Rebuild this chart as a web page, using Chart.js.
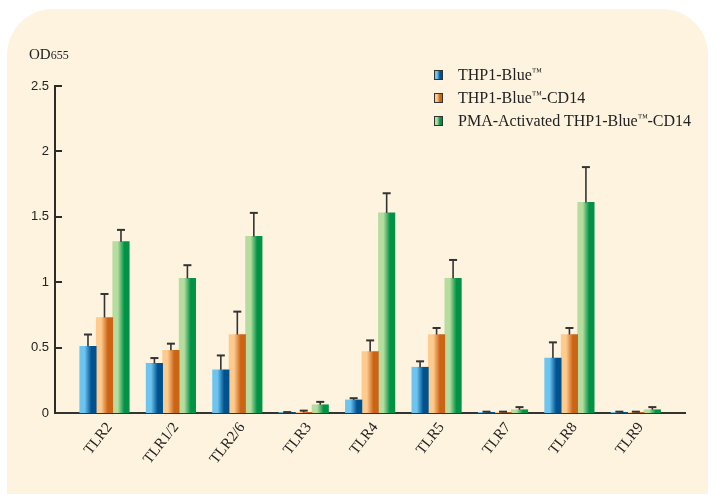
<!DOCTYPE html>
<html>
<head>
<meta charset="utf-8">
<script src="https://cdn.jsdelivr.net/npm/chart.js@4"></script>
<style>
html,body{margin:0;padding:0;background:#fff;}
#wrap{position:relative;width:716px;height:495px;overflow:hidden;}
#panel{position:absolute;left:7px;top:9px;width:701px;height:485px;background:#fef3de;border-radius:46px 46px 0 0;}
#c{position:absolute;left:0;top:0;}
#ytitle{position:absolute;left:29px;top:46px;font:15px "Liberation Serif","Times New Roman",serif;color:#222;}
#ytitle span{font-size:12px;}
#legend{position:absolute;left:434px;top:63px;font:16px "Liberation Serif","Times New Roman",serif;color:#222;}
#legend .row{height:23px;display:flex;align-items:center;white-space:nowrap;}
#legend .sw{width:7px;height:8px;border:1px solid #333;margin-right:15px;}
.tm{font-size:10px;position:relative;top:-5px;}
</style>
</head>
<body>
<div id="wrap">
  <div id="panel"></div>
  <canvas id="c" width="716" height="495"></canvas>
  <div id="ytitle">OD<span>655</span></div>
  <div id="legend"></div>
</div>
<script>
/* ---------- Data ---------- */
const categories = ['TLR2','TLR1/2','TLR2/6','TLR3','TLR4','TLR5','TLR7','TLR8','TLR9'];
const seriesNames = ['THP1-Blue™', 'THP1-Blue™-CD14', 'PMA-Activated THP1-Blue™-CD14'];

const thp1Blue      = [0.51, 0.38, 0.33, 0.004, 0.10, 0.35, 0.005, 0.42, 0.005];
const thp1BlueErr   = [0.09, 0.04, 0.11, 0.003, 0.013, 0.045, 0.005, 0.12, 0.005];
const thp1Cd14      = [0.73, 0.48, 0.60, 0.005, 0.47, 0.60, 0.005, 0.60, 0.005];
const thp1Cd14Err   = [0.18, 0.05, 0.175, 0.013, 0.085, 0.05, 0.005, 0.05, 0.005];
const pmaCd14       = [1.31, 1.03, 1.35, 0.063, 1.53, 1.03, 0.025, 1.61, 0.025];
const pmaCd14Err    = [0.09, 0.10, 0.18, 0.022, 0.15, 0.14, 0.02, 0.27, 0.02];

const yTicks = [0, 0.5, 1, 1.5, 2, 2.5];

/* ---------- Styles ---------- */
const SHADES = [
  ['#6cc4ef', '#00528f'],
  ['#fdcb8e', '#cc6416'],
  ['#b7dc9f', '#009345']
];
const SERIF = '"Liberation Serif", "Times New Roman", serif';
const SANS  = '"Liberation Sans", Arial, sans-serif';

const pts = (vals)=> vals.map((v,i)=>({x:i, y:v}));

/* left-light / right-dark shading of every bar */
const barShade = {
  id:'barShade',
  beforeDatasetsDraw(chart){
    const ctx = chart.ctx;
    chart.data.datasets.forEach((ds, di)=>{
      chart.getDatasetMeta(di).data.forEach(bar=>{
        const x0 = bar.x - bar.width/2, x1 = bar.x + bar.width/2;
        const g = ctx.createLinearGradient(x0, 0, x1, 0);
        g.addColorStop(0, ds.shade[0]);
        g.addColorStop(0.3, ds.shade[0]);
        g.addColorStop(0.7, ds.shade[1]);
        g.addColorStop(1, ds.shade[1]);
        bar.options = Object.assign({}, bar.options, {backgroundColor:g});
      });
    });
  }
};

/* upper error bars */
const errorBars = {
  id:'errorBars',
  afterDatasetsDraw(chart){
    const {ctx, scales:{y}} = chart;
    ctx.save();
    ctx.strokeStyle = '#333';
    chart.data.datasets.forEach((ds, di)=>{
      chart.getDatasetMeta(di).data.forEach((bar, i)=>{
        const top = y.getPixelForValue(ds.data[i].y + ds.err[i]);
        ctx.lineWidth = 1.6;
        ctx.beginPath(); ctx.moveTo(bar.x, bar.y); ctx.lineTo(bar.x, top); ctx.stroke();
        ctx.lineWidth = 2;
        ctx.beginPath(); ctx.moveTo(bar.x - 4, top); ctx.lineTo(bar.x + 4, top); ctx.stroke();
      });
    });
    ctx.restore();
  }
};

/* inward tick marks on the value axis */
const innerTicks = {
  id:'innerTicks',
  afterDraw(chart){
    const {ctx, scales:{x, y}} = chart;
    ctx.save();
    ctx.strokeStyle = '#2b2b2b';
    ctx.lineWidth = 2;
    y.ticks.forEach(t=>{
      if (t.value === 0) return;
      const py = Math.round(y.getPixelForValue(t.value));
      ctx.beginPath(); ctx.moveTo(x.left, py); ctx.lineTo(x.left + 7, py); ctx.stroke();
    });
    ctx.restore();
  }
};

const datasets = [
  { label: seriesNames[0], data: pts(thp1Blue), err: thp1BlueErr, shade: SHADES[0] },
  { label: seriesNames[1], data: pts(thp1Cd14), err: thp1Cd14Err, shade: SHADES[1] },
  { label: seriesNames[2], data: pts(pmaCd14),  err: pmaCd14Err,  shade: SHADES[2] }
].map(d=>Object.assign(d, {
  backgroundColor: d.shade[1], borderWidth: 0,
  barThickness: 16.5
}));

new Chart(document.getElementById('c'), {
  type: 'bar',
  data: { datasets },
  options: {
    responsive: false,
    animation: false,
    layout: { padding: { left: 0, top: 86, right: 31, bottom: 0 } },
    plugins: { legend: { display:false }, tooltip: { enabled:false } },
    scales: {
      x: {
        type: 'linear', min: -0.745, max: 8.74, bounds: 'data', offset: false,
        grid: { display:false, drawTicks:false },
        border: { color:'#333', width:2 },
        afterFit: (s)=>{ s.height = 82; },
        afterBuildTicks: (s)=>{ s.ticks = categories.map((_, i)=>({value:i})); },
        ticks: {
          autoSkip: false,
          maxRotation: 52, minRotation: 52, padding: 6, labelOffset: 5,
          font: { family: SERIF, size: 15 }, color: '#222',
          callback: (v)=> categories[Math.round(v)] ?? ''
        }
      },
      y: {
        min: yTicks[0], max: yTicks[yTicks.length-1],
        grid: { display:false, drawTicks:false },
        border: { color:'#2b2b2b', width:2 },
        afterFit: (s)=>{ s.width = 55; },
        afterBuildTicks: (s)=>{ s.ticks = yTicks.map(v=>({value:v})); },
        ticks: { padding: 6, font: { family: SANS, size: 13 }, color: '#222',
                 callback: (v)=> String(v) }
      }
    }
  },
  plugins: [barShade, errorBars, innerTicks]
});

/* ---------- Legend ---------- */
const legendEl = document.getElementById('legend');
seriesNames.forEach((name, i)=>{
  const row = document.createElement('div');
  row.className = 'row';
  const sw = document.createElement('span');
  sw.className = 'sw';
  sw.style.background = `linear-gradient(to right, ${SHADES[i][0]} 30%, ${SHADES[i][1]} 70%)`;
  const txt = document.createElement('span');
  txt.innerHTML = name.replace('™', '<span class="tm">™</span>');
  row.appendChild(sw); row.appendChild(txt);
  legendEl.appendChild(row);
});
</script>
</body>
</html>
